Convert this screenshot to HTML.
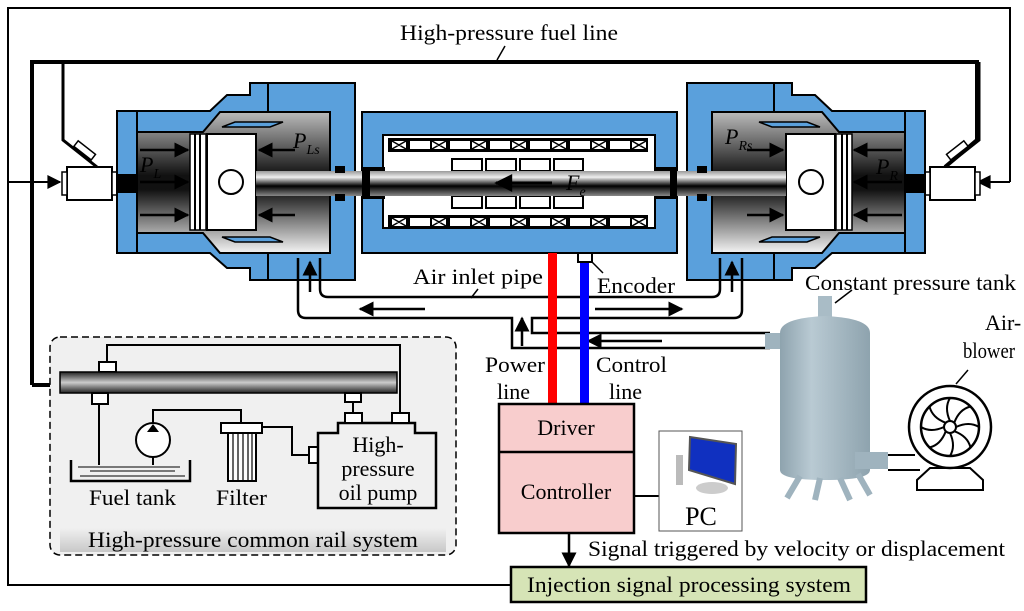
<!DOCTYPE html>
<html><head><meta charset="utf-8"><style>
html,body{margin:0;padding:0;background:#fff;}
svg{display:block;}
text{font-family:"Liberation Serif",serif;fill:#000;}
</style></head><body>
<svg width="1024" height="611" viewBox="0 0 1024 611" xmlns="http://www.w3.org/2000/svg">
<defs>
<linearGradient id="ch" x1="0" y1="0" x2="0" y2="1">
<stop offset="0" stop-color="#bbb"/><stop offset="0.45" stop-color="#111"/><stop offset="0.55" stop-color="#111"/><stop offset="1" stop-color="#f4f4f4"/></linearGradient>
<linearGradient id="rod" x1="0" y1="0" x2="0" y2="1">
<stop offset="0" stop-color="#999"/><stop offset="0.25" stop-color="#eee"/><stop offset="0.6" stop-color="#000"/><stop offset="1" stop-color="#888"/></linearGradient>
<linearGradient id="rail" x1="0" y1="0" x2="0" y2="1">
<stop offset="0" stop-color="#222"/><stop offset="0.5" stop-color="#ccc"/><stop offset="1" stop-color="#222"/></linearGradient>
<linearGradient id="band" x1="0" y1="0" x2="0" y2="1">
<stop offset="0" stop-color="#f0f0f0"/><stop offset="1" stop-color="#c8c8c8"/></linearGradient>
<linearGradient id="tank" x1="0" y1="0" x2="1" y2="0">
<stop offset="0" stop-color="#8ea3ae"/><stop offset="0.35" stop-color="#b9cad3"/><stop offset="1" stop-color="#8ea3ae"/></linearGradient>
<marker id="ah" viewBox="0 0 10 10" refX="9" refY="5" markerWidth="7" markerHeight="6" orient="auto"><path d="M0,0 L10,5 L0,10 Z" fill="#000"/></marker>
<marker id="ah2" viewBox="0 0 10 10" refX="9" refY="5" markerWidth="9" markerHeight="7" orient="auto"><path d="M0,0 L10,5 L0,10 Z" fill="#000"/></marker>
<g id="side">
  <rect x="67" y="167" width="45" height="33" fill="#fff" stroke="#000" stroke-width="2"/>
  <rect x="112" y="172" width="5" height="23" fill="#fff" stroke="#000" stroke-width="1.5"/>
  <rect x="62" y="172" width="5" height="23" fill="#fff" stroke="#000" stroke-width="1.5"/>
  <path d="M63,62 V140 L97,167" fill="none" stroke="#000" stroke-width="3"/>
  <rect x="74" y="147" width="22" height="7" fill="#fff" stroke="#000" stroke-width="1.5" transform="rotate(38 85 150)"/>
  <path d="M117,111 H210 L227,95 H250 V83 H355 V280 H250 V268 H227 L210,253 H117 Z" fill="#5aa0dc" stroke="#000" stroke-width="2"/>
  <path d="M137,132 H203 L220,112 H330 V253 H220 L203,233 H137 Z" fill="url(#ch)" stroke="#000" stroke-width="2"/>
  <line x1="137" y1="111" x2="137" y2="253" stroke="#000" stroke-width="2"/>
  <line x1="268" y1="83" x2="268" y2="112" stroke="#000" stroke-width="2"/>
  <line x1="268" y1="253" x2="268" y2="280" stroke="#000" stroke-width="2"/>
  <rect x="117" y="174" width="20" height="19" fill="#000"/>
  <path d="M222,127 L235,122 H283 L270,127 Z" fill="#5aa0dc" stroke="#000" stroke-width="1.5"/>
  <path d="M222,237 L235,242 H283 L270,237 Z" fill="#5aa0dc" stroke="#000" stroke-width="1.5"/>
  <rect x="190" y="134" width="16" height="96" fill="#fff" stroke="#000" stroke-width="1.5"/>
  <line x1="195" y1="134" x2="195" y2="230" stroke="#000" stroke-width="2"/>
  <line x1="200" y1="134" x2="200" y2="230" stroke="#000" stroke-width="2"/>
  <rect x="207" y="134" width="49" height="96" fill="#fff" stroke="#000" stroke-width="2"/>
  <circle cx="231" cy="182" r="12" fill="#fff" stroke="#000" stroke-width="2"/>
  <rect x="256" y="171" width="270" height="25" fill="url(#rod)"/>
  <rect x="335" y="166" width="10" height="7" fill="#000"/>
  <rect x="335" y="194" width="10" height="7" fill="#000"/>
  <g stroke="#000" stroke-width="2.5" marker-end="url(#ah)">
    <line x1="140" y1="150" x2="188" y2="150"/><line x1="140" y1="182" x2="188" y2="182"/><line x1="140" y1="215" x2="188" y2="215"/>
    <line x1="295" y1="150" x2="259" y2="150"/><line x1="295" y1="215" x2="259" y2="215"/>
    <line x1="310" y1="292" x2="310" y2="262"/>
  </g>
</g>
</defs>

<path d="M512,585 H8 V8 H1010 V182" fill="none" stroke="#000" stroke-width="2"/>
<line x1="8" y1="182" x2="60" y2="182" stroke="#000" stroke-width="2" marker-end="url(#ah2)"/>
<line x1="1010" y1="182" x2="978" y2="182" stroke="#000" stroke-width="2" marker-end="url(#ah2)"/>
<path d="M32,385 V62 H977 V140 L945,167" fill="none" stroke="#000" stroke-width="4"/>
<line x1="32" y1="385" x2="60" y2="385" stroke="#000" stroke-width="4"/>
<line x1="505" y1="46" x2="497" y2="60" stroke="#000" stroke-width="1.5"/>
<text x="400" y="40" font-size="22" textLength="218" lengthAdjust="spacingAndGlyphs">High-pressure fuel line</text>

<rect x="362" y="112" width="315" height="141" fill="#5aa0dc" stroke="#000" stroke-width="2"/>
<rect x="383" y="135" width="272" height="93" fill="#fff" stroke="#000" stroke-width="2"/>
<rect x="388" y="138" width="260" height="14" fill="#000"/>
<rect x="388" y="215" width="260" height="14" fill="#000"/>
<g id="coils" fill="#fff" stroke="none">
<rect x="392" y="141" width="14" height="8"/><rect x="410" y="141" width="20" height="8"/>
<rect x="432" y="141" width="14" height="8"/><rect x="450" y="141" width="20" height="8"/>
<rect x="472" y="141" width="14" height="8"/><rect x="490" y="141" width="20" height="8"/>
<rect x="512" y="141" width="14" height="8"/><rect x="530" y="141" width="20" height="8"/>
<rect x="552" y="141" width="14" height="8"/><rect x="570" y="141" width="20" height="8"/>
<rect x="592" y="141" width="14" height="8"/><rect x="610" y="141" width="20" height="8"/>
<rect x="632" y="141" width="14" height="8"/>
</g>
<use href="#coils" y="77"/>
<g stroke="#000" stroke-width="1.5">
<path d="M392,141 l14,8 m0,-8 l-14,8 M432,141 l14,8 m0,-8 l-14,8 M472,141 l14,8 m0,-8 l-14,8 M512,141 l14,8 m0,-8 l-14,8 M552,141 l14,8 m0,-8 l-14,8 M592,141 l14,8 m0,-8 l-14,8 M632,141 l14,8 m0,-8 l-14,8"/>
<path transform="translate(0,77)" d="M392,141 l14,8 m0,-8 l-14,8 M432,141 l14,8 m0,-8 l-14,8 M472,141 l14,8 m0,-8 l-14,8 M512,141 l14,8 m0,-8 l-14,8 M552,141 l14,8 m0,-8 l-14,8 M592,141 l14,8 m0,-8 l-14,8 M632,141 l14,8 m0,-8 l-14,8"/>
</g>
<g fill="#fff" stroke="#000" stroke-width="2">
<rect x="452" y="159" width="30" height="12"/><rect x="486" y="159" width="30" height="12"/><rect x="520" y="159" width="30" height="12"/><rect x="554" y="159" width="29" height="12"/>
<rect x="452" y="196" width="30" height="12"/><rect x="486" y="196" width="30" height="12"/><rect x="520" y="196" width="30" height="12"/><rect x="554" y="196" width="29" height="12"/>
</g>

<use href="#side"/>
<use href="#side" transform="translate(1042,0) scale(-1,1)"/>
<rect x="362" y="167" width="23" height="32" fill="#000"/>
<rect x="655" y="167" width="22" height="32" fill="#000"/>
<rect x="370" y="171" width="300" height="25" fill="url(#rod)"/>
<line x1="552" y1="183" x2="496" y2="183" stroke="#000" stroke-width="3" marker-end="url(#ah)"/>
<text x="566" y="190" font-size="22" font-style="italic">F<tspan font-size="14" dy="6">e</tspan></text>
<text x="140" y="172" font-size="22" font-style="italic">P<tspan font-size="14" dy="6">L</tspan></text>
<text x="293" y="148" font-size="22" font-style="italic">P<tspan font-size="14" dy="6">Ls</tspan></text>
<text x="725" y="144" font-size="22" font-style="italic">P<tspan font-size="14" dy="6">Rs</tspan></text>
<text x="876" y="174" font-size="22" font-style="italic">P<tspan font-size="14" dy="6">R</tspan></text>

<g fill="none" stroke="#000" stroke-width="2.5">
<path d="M320,258 V289 Q320,297 328,297 H712 Q720,297 720,289 V258"/>
<path d="M298,258 V310 Q298,318 306,318 H512 V348 H770"/>
<path d="M770,333 H532 V318 H734 Q742,318 742,310 V258"/>
</g>
<g stroke="#000" stroke-width="2.5" marker-end="url(#ah)">
<line x1="425" y1="309" x2="360" y2="309"/>
<line x1="595" y1="309" x2="682" y2="309"/>
<line x1="662" y1="341" x2="588" y2="341"/>
<line x1="522" y1="346" x2="522" y2="318"/>
</g>
<rect x="548" y="253" width="9" height="150" fill="#f00"/>
<rect x="580" y="262" width="9" height="141" fill="#00f"/>
<rect x="578" y="253" width="14" height="9" fill="#fff" stroke="#000" stroke-width="2"/>
<line x1="592" y1="262" x2="603" y2="273" stroke="#000" stroke-width="1.5"/>
<text x="413" y="284" font-size="22" textLength="130" lengthAdjust="spacingAndGlyphs">Air inlet pipe</text>
<line x1="478" y1="289" x2="471" y2="298" stroke="#000" stroke-width="1.5"/>
<text x="597" y="293" font-size="22" textLength="78" lengthAdjust="spacingAndGlyphs">Encoder</text>
<text x="805" y="290" font-size="22" textLength="211" lengthAdjust="spacingAndGlyphs">Constant pressure tank</text>
<text x="485" y="372" font-size="22" textLength="60" lengthAdjust="spacingAndGlyphs">Power</text>
<text x="497" y="399" font-size="22">line</text>
<text x="596" y="372" font-size="22" textLength="71" lengthAdjust="spacingAndGlyphs">Control</text>
<text x="609" y="399" font-size="22">line</text>

<rect x="499" y="404" width="135" height="129" fill="#f8cdcd" stroke="#000" stroke-width="2.5"/>
<line x1="499" y1="452" x2="634" y2="452" stroke="#000" stroke-width="2.5"/>
<text x="566" y="435" font-size="22" text-anchor="middle">Driver</text>
<text x="566" y="499" font-size="22" text-anchor="middle">Controller</text>
<line x1="634" y1="496" x2="659" y2="496" stroke="#000" stroke-width="2"/>
<rect x="659" y="431" width="83" height="100" fill="#fff" stroke="#555" stroke-width="1"/>
<path d="M690,437 L736,444 L735,484 L689,470 Z" fill="#1030c0" stroke="#555" stroke-width="2"/>
<rect x="676" y="455" width="7" height="30" fill="#bbb"/>
<ellipse cx="712" cy="488" rx="16" ry="6" fill="#ccc"/>
<text x="701" y="525" font-size="26" text-anchor="middle">PC</text>
<line x1="569" y1="533" x2="569" y2="566" stroke="#000" stroke-width="2.5" marker-end="url(#ah)"/>
<text x="588" y="556" font-size="22" textLength="417" lengthAdjust="spacingAndGlyphs">Signal triggered by velocity or displacement</text>
<rect x="511" y="567" width="355" height="35" fill="#d6e4b6" stroke="#000" stroke-width="2.5"/>
<text x="527" y="592" font-size="22" textLength="324" lengthAdjust="spacingAndGlyphs">Injection signal processing system</text>

<rect x="765" y="333" width="20" height="16" fill="#9fb3be"/>
<rect x="818" y="296" width="14" height="24" fill="#a9bcc6"/>
<path d="M780,333 Q780,318 825,316 Q870,318 870,333 V470 Q870,480 825,480 Q780,480 780,470 Z" fill="url(#tank)"/>
<rect x="855" y="452" width="33" height="17" fill="#9fb3be"/>
<path d="M800,476 L787,498 M820,478 L815,500 M840,478 L850,500 M858,474 L870,495" stroke="#9fb3be" stroke-width="6"/>
<line x1="835" y1="303" x2="852" y2="290" stroke="#000" stroke-width="1.5"/>
<path d="M888,455 H915 M888,470 H920" stroke="#000" stroke-width="2"/>
<path d="M930,468 L917,480 V490 H983 V480 L970,468 Z" fill="#fff" stroke="#000" stroke-width="2"/>
<circle cx="950" cy="427" r="41" fill="#fff" stroke="#000" stroke-width="2.5"/>
<circle cx="950" cy="427" r="29" fill="#fff" stroke="#000" stroke-width="2.5"/>
<circle cx="950" cy="427" r="6" fill="#fff" stroke="#000" stroke-width="2"/>
<g fill="none" stroke="#000" stroke-width="2">
<path d="M950,421 Q944,408 950,398"/>
<path d="M950,421 Q944,408 950,398" transform="rotate(45 950 427)"/>
<path d="M950,421 Q944,408 950,398" transform="rotate(90 950 427)"/>
<path d="M950,421 Q944,408 950,398" transform="rotate(135 950 427)"/>
<path d="M950,421 Q944,408 950,398" transform="rotate(180 950 427)"/>
<path d="M950,421 Q944,408 950,398" transform="rotate(225 950 427)"/>
<path d="M950,421 Q944,408 950,398" transform="rotate(270 950 427)"/>
<path d="M950,421 Q944,408 950,398" transform="rotate(315 950 427)"/>
</g>
<line x1="956" y1="384" x2="968" y2="370" stroke="#000" stroke-width="1.5"/>
<text x="985" y="330" font-size="22">Air-</text>
<text x="963" y="358" font-size="22" textLength="52" lengthAdjust="spacingAndGlyphs">blower</text>

<rect x="50" y="337" width="406" height="218" rx="10" fill="#f0f0f0" stroke="#000" stroke-width="1.5" stroke-dasharray="7,4"/>
<rect x="60" y="528" width="386" height="24" fill="url(#band)"/>
<text x="88" y="547" font-size="22" textLength="330" lengthAdjust="spacingAndGlyphs">High-pressure common rail system</text>
<path d="M107,362 V345 H400 V413" fill="none" stroke="#000" stroke-width="2"/>
<rect x="99" y="362" width="17" height="10" fill="#fff" stroke="#000" stroke-width="2"/>
<rect x="60" y="372" width="337" height="21" fill="url(#rail)" stroke="#000" stroke-width="1.5"/>
<rect x="92" y="393" width="16" height="11" fill="#fff" stroke="#000" stroke-width="2"/>
<rect x="345" y="393" width="16" height="9" fill="#fff" stroke="#000" stroke-width="2"/>
<line x1="353" y1="402" x2="353" y2="413" stroke="#000" stroke-width="2"/>
<line x1="99" y1="404" x2="99" y2="465" stroke="#000" stroke-width="2"/>
<path d="M71,460 V481 H190 V460" fill="none" stroke="#000" stroke-width="2.5"/>
<path d="M78,467 H180 M90,471 H175 M80,476 H185" stroke="#000" stroke-width="1"/>
<path d="M153,465 V457 M153,423 V410 H241 V423" fill="none" stroke="#000" stroke-width="2"/>
<circle cx="153" cy="440" r="17" fill="#fff" stroke="#000" stroke-width="2"/>
<path d="M147,432 L153,424 L159,432 Z" fill="#000"/>
<rect x="221" y="423" width="41" height="10" fill="#fff" stroke="#000" stroke-width="2"/>
<rect x="228" y="433" width="28" height="48" fill="#fff" stroke="#000" stroke-width="2"/>
<path d="M233,433 V481 M238,433 V481 M243,433 V481 M248,433 V481 M252,433 V481" stroke="#000" stroke-width="1.2"/>
<path d="M262,427 H292 V455 H310" fill="none" stroke="#000" stroke-width="2"/>
<rect x="309" y="447" width="9" height="16" fill="#fff" stroke="#000" stroke-width="2"/>
<path d="M318,433 H338 V423 H415 V433 H436 V508 H318 Z" fill="#f0f0f0" stroke="#000" stroke-width="2.5"/>
<rect x="345" y="413" width="17" height="10" fill="#fff" stroke="#000" stroke-width="2"/>
<rect x="392" y="413" width="17" height="10" fill="#fff" stroke="#000" stroke-width="2"/>
<text x="378" y="452" font-size="22" text-anchor="middle">High-</text>
<text x="378" y="476" font-size="22" text-anchor="middle">pressure</text>
<text x="378" y="500" font-size="22" text-anchor="middle">oil pump</text>
<text x="89" y="505" font-size="22" textLength="87" lengthAdjust="spacingAndGlyphs">Fuel tank</text>
<text x="216" y="505" font-size="22" textLength="51" lengthAdjust="spacingAndGlyphs">Filter</text>
</svg>
</body></html>
